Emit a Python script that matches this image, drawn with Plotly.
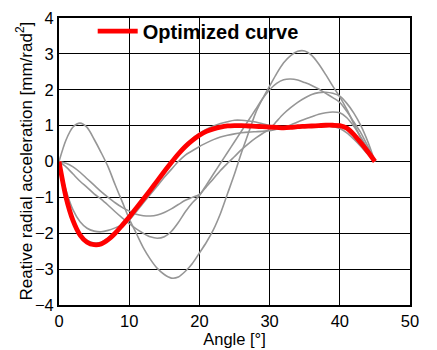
import plotly.graph_objects as go

# Angle values (degrees) for the curves
angle = [0, 1, 2, 3, 4, 5, 6, 7, 8, 9, 10, 11, 12, 13, 14, 15, 16, 17, 18, 19, 20,
         21, 22, 23, 24, 25, 26, 27, 28, 29, 30, 31, 32, 33, 34, 35, 36, 37, 38, 39,
         40, 41, 42, 43, 44, 45]

# Grey comparison curves
curve_a = [0, 0.6, 0.96, 1.07, 0.95, 0.62, 0.25, -0.15, -0.65, -1.12, -1.6, -2.0, -2.4,
           -2.72, -2.98, -3.15, -3.25, -3.22, -3.06, -2.84, -2.55, -2.25, -1.9, -1.45,
           -0.9, -0.35, 0.25, 0.8, 1.35, 1.75, 2.1, 2.45, 2.75, 2.95, 3.07, 3.08, 2.96,
           2.72, 2.42, 2.1, 1.8, 1.45, 1.05, 0.65, 0.3, 0]
curve_b = [0, -0.15, -0.35, -0.55, -0.72, -0.9, -1.05, -1.22, -1.4, -1.57, -1.73, -1.88,
           -2.0, -2.1, -2.14, -2.1, -1.95, -1.7, -1.4, -1.15, -0.95, -0.65, -0.35, -0.05,
           0.25, 0.55, 0.85, 1.15, 1.45, 1.75, 2.0, 2.18, 2.28, 2.3, 2.27, 2.2, 2.12,
           2.02, 1.9, 1.78, 1.65, 1.4, 1.1, 0.8, 0.42, 0]
curve_c = [0, -0.05, -0.15, -0.3, -0.48, -0.66, -0.84, -1.0, -1.15, -1.28, -1.38, -1.47,
           -1.51, -1.52, -1.49, -1.42, -1.32, -1.2, -1.08, -1.0, -0.92, -0.7, -0.48,
           -0.25, -0.05, 0.14, 0.33, 0.5, 0.65, 0.78, 0.9, 1.12, 1.33, 1.5, 1.65, 1.77,
           1.87, 1.92, 1.93, 1.9, 1.82, 1.62, 1.35, 1.0, 0.55, 0]
curve_d = [0, -0.8, -1.35, -1.68, -1.86, -1.94, -1.96, -1.92, -1.85, -1.76, -1.63, -1.4,
           -1.16, -0.92, -0.68, -0.44, -0.22, 0.0, 0.18, 0.3, 0.42, 0.52, 0.61, 0.68,
           0.73, 0.77, 0.8, 0.82, 0.83, 0.84, 0.86, 0.9, 0.95, 1.02, 1.1, 1.18, 1.25,
           1.32, 1.36, 1.38, 1.36, 1.22, 0.98, 0.68, 0.35, 0]
curve_e = [0, -1.0, -1.6, -2.0, -2.2, -2.27, -2.25, -2.13, -1.96, -1.76, -1.53, -1.28,
           -1.02, -0.76, -0.5, -0.24, 0.01, 0.25, 0.46, 0.64, 0.78, 0.9, 0.99, 1.06,
           1.11, 1.15, 1.15, 1.13, 1.1, 1.05, 1.0, 0.97, 0.95, 0.95, 0.97, 0.99, 1.0,
           1.0, 0.99, 0.97, 0.92, 0.8, 0.62, 0.42, 0.2, 0]

# Optimized curve
optimized = [0, -1.0, -1.65, -2.05, -2.25, -2.32, -2.3, -2.18, -2.0, -1.78, -1.55, -1.3,
             -1.05, -0.8, -0.54, -0.28, -0.03, 0.21, 0.42, 0.59, 0.73, 0.84, 0.91, 0.96,
             0.99, 1.0, 1.0, 0.99, 0.98, 0.97, 0.96, 0.95, 0.94, 0.95, 0.97, 0.98, 0.99,
             1.0, 1.01, 1.01, 1.0, 0.93, 0.75, 0.52, 0.27, 0]

x_ticks = [0, 10, 20, 30, 40, 50]
y_ticks = [-4, -3, -2, -1, 0, 1, 2, 3, 4]

grey = "rgb(150,150,150)"
fig = go.Figure()
for ys in [curve_a, curve_b, curve_c, curve_d, curve_e]:
    fig.add_trace(go.Scatter(x=angle, y=ys, mode="lines",
                             line=dict(color=grey, width=1.6, shape="spline", smoothing=0.8),
                             showlegend=False, hoverinfo="skip"))
fig.add_trace(go.Scatter(x=angle, y=optimized, mode="lines", name="Optimized curve",
                         line=dict(color="red", width=4.8, shape="spline", smoothing=0.8)))

font = "Liberation Sans, Arial, sans-serif"
fig.update_layout(
    width=437, height=350,
    margin=dict(l=59, r=27, t=14, b=45),
    paper_bgcolor="white", plot_bgcolor="white",
    font=dict(family=font, size=16, color="black"),
    legend=dict(x=0.096, y=1.022, xanchor="left", yanchor="top", bgcolor="rgba(0,0,0,0)",
                itemwidth=40,
                font=dict(size=20, family=font, weight="bold"), borderwidth=0),
    xaxis=dict(range=[0, 50], tickvals=x_ticks, showgrid=True, gridcolor="black", gridwidth=1,
               showline=True, linecolor="black", linewidth=2, mirror=True, zeroline=False,
               ticks="", tickfont=dict(size=16.5), automargin=False,
               title=dict(text="Angle [°]", font=dict(size=16.5), standoff=5)),
    yaxis=dict(range=[-4, 4], tickvals=y_ticks, showgrid=True, gridcolor="black", gridwidth=1,
               showline=True, linecolor="black", linewidth=2, mirror=True, zeroline=False,
               ticks="", tickfont=dict(size=16.5), automargin=False),
    annotations=[dict(text="Reative radial acceleration [mm/rad<sup>2</sup>]",
                      xref="paper", yref="paper", x=0, y=0.5, xshift=-35,
                      xanchor="center", yanchor="middle", textangle=-90,
                      showarrow=False, font=dict(size=17))],
)
fig.write_html("out.html")
